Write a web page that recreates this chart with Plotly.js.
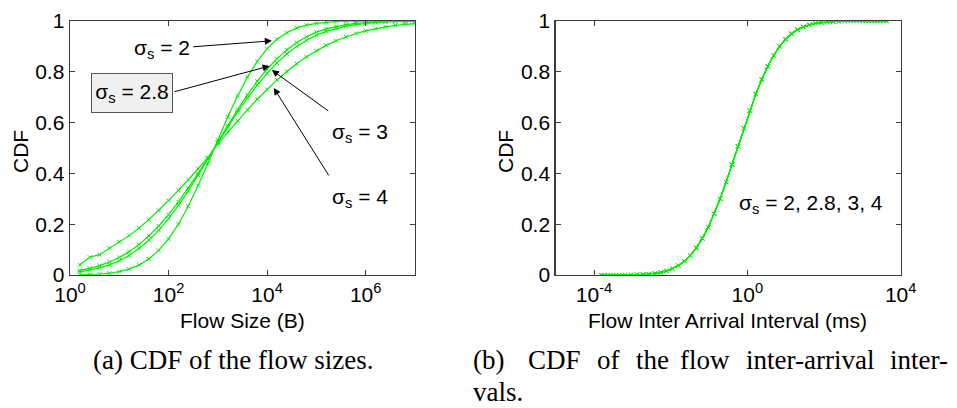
<!DOCTYPE html>
<html>
<head>
<meta charset="utf-8">
<script src="https://cdn.plot.ly/plotly-3.0.1.min.js"></script>
<style>
  html, body { margin: 0; padding: 0; background: #ffffff; }
  #fig { width: 957px; height: 408px; }
</style>
</head>
<body>
<div id="fig"></div>
<script>
// (a) Flow sizes in bytes, sampled on a log grid
const flowSizeBytes = [
  1.585, 2.512, 3.981, 6.310, 10, 15.85, 25.12, 39.81, 63.10, 100,
  158.5, 251.2, 398.1, 631.0, 1000, 1585, 2512, 3981, 6310, 10000,
  15849, 25119, 39811, 63096, 100000, 158489, 251189, 398107, 630957, 1000000,
  1584893, 2511886, 3981072, 6309573, 10000000
];
// CDF of flow sizes for each sigma_s
const cdfSigma2 = [
  0.001, 0.002, 0.004, 0.007, 0.013, 0.023, 0.039, 0.063, 0.097, 0.142,
  0.200, 0.271, 0.352, 0.440, 0.532, 0.622, 0.705, 0.779, 0.841, 0.891,
  0.928, 0.954, 0.973, 0.984, 0.991, 0.995, 0.998, 0.999, 0.999, 1,
  1, 1, 1, 1, 1
];
const cdfSigma28 = [
  0.012, 0.019, 0.028, 0.040, 0.056, 0.077, 0.104, 0.137, 0.176, 0.222,
  0.274, 0.331, 0.393, 0.457, 0.523, 0.588, 0.651, 0.709, 0.763, 0.811,
  0.852, 0.887, 0.915, 0.938, 0.956, 0.969, 0.979, 0.986, 0.991, 0.994,
  0.996, 0.998, 0.999, 0.999, 1.0
];
const cdfSigma3 = [
  0.018, 0.026, 0.037, 0.051, 0.069, 0.092, 0.120, 0.154, 0.193, 0.238,
  0.288, 0.342, 0.400, 0.460, 0.521, 0.582, 0.641, 0.696, 0.748, 0.794,
  0.835, 0.870, 0.900, 0.924, 0.944, 0.959, 0.971, 0.980, 0.986, 0.991,
  0.994, 0.996, 0.998, 0.998, 0.999
];
const cdfSigma4 = [
  0.040, 0.070, 0.080, 0.106, 0.130, 0.155, 0.185, 0.218, 0.255, 0.293,
  0.333, 0.375, 0.418, 0.462, 0.516, 0.562, 0.607, 0.650, 0.692, 0.731,
  0.768, 0.801, 0.832, 0.859, 0.883, 0.904, 0.922, 0.938, 0.951, 0.961,
  0.970, 0.977, 0.983, 0.987, 0.990
];

// (b) Flow inter-arrival intervals in ms (same distribution for every sigma_s)
const interArrivalMs = [
  0.000155, 0.000221, 0.000316, 0.000452, 0.000646, 0.000923, 0.00132, 0.00188, 0.00269, 0.00385,
  0.00550, 0.00785, 0.0112, 0.0160, 0.0229, 0.0327, 0.0468, 0.0668, 0.0955, 0.136,
  0.195, 0.279, 0.398, 0.569, 0.813, 1.16, 1.66, 2.37, 3.39, 4.84,
  6.92, 9.89, 14.1, 20.2, 28.8, 41.2, 58.9, 84.1, 120, 172,
  245, 351, 501, 716, 1023, 1462, 2089, 2985, 4266
];
const interArrivalCdf = [
  0, 0, 0.0001, 0.0002, 0.0003, 0.0006, 0.001, 0.002, 0.004, 0.006,
  0.010, 0.016, 0.025, 0.037, 0.054, 0.077, 0.107, 0.144, 0.188, 0.241,
  0.300, 0.366, 0.435, 0.507, 0.578, 0.647, 0.712, 0.770, 0.821, 0.864,
  0.900, 0.928, 0.950, 0.966, 0.977, 0.985, 0.991, 0.994, 0.997, 0.998,
  0.999, 0.9995, 1, 1, 1, 1, 1, 1, 1
];

const sigmaLabels = ['2', '2.8', '3', '4'];
const sizeSeries = [cdfSigma2, cdfSigma28, cdfSigma3, cdfSigma4];

const yTickVals = [0, 0.2, 0.4, 0.6, 0.8, 1];
const yTickText = ['0', '0.2', '0.4', '0.6', '0.8', '1'];
const sizeTickVals = [1, 100, 10000, 1000000];
const sizeTickText = ['10<sup>0</sup>', '10<sup>2</sup>', '10<sup>4</sup>', '10<sup>6</sup>'];
const iatTickVals = [0.0001, 1, 10000];
const iatTickText = ['10<sup>-4</sup>', '10<sup>0</sup>', '10<sup>4</sup>'];

const GREEN = '#00f000';
const SANS = 'Liberation Sans, Arial, sans-serif';
const SERIF = 'Liberation Serif, Times New Roman, serif';

function curve(x, y, name, xa, ya) {
  return {
    type: 'scatter', mode: 'lines+markers', name: name,
    x: x, y: y, xaxis: xa, yaxis: ya,
    line: { color: GREEN, width: 1.2 },
    marker: { symbol: 'x-thin', size: 4, line: { color: GREEN, width: 1 } },
    showlegend: false, hoverinfo: 'skip'
  };
}

const traces = [];
sizeSeries.forEach((ys, i) => traces.push(curve(flowSizeBytes, ys, 'σs = ' + sigmaLabels[i], 'x', 'y')));
sigmaLabels.forEach(s => traces.push(curve(interArrivalMs, interArrivalCdf, 'σs = ' + s, 'x2', 'y2')));

const W = 957, H = 408;
const px = v => v / W;
const py = v => 1 - v / H;

const axisCommon = {
  showline: true, linecolor: '#3c3c3c', linewidth: 1.4, mirror: 'ticks',
  ticks: 'inside', ticklen: 5, tickwidth: 1, tickcolor: '#3c3c3c',
  showgrid: false, zeroline: false, fixedrange: true,
  tickfont: { family: SANS, size: 21, color: '#000' }
};

const yDomain = [py(275), py(21)];

const layout = {
  width: W, height: H,
  margin: { l: 0, r: 0, t: 0, b: 0 },
  paper_bgcolor: '#ffffff', plot_bgcolor: '#ffffff',
  showlegend: false,
  xaxis: Object.assign({}, axisCommon, {
    type: 'log', range: [0, 7], domain: [px(70), px(415)],
    tickmode: 'array', tickvals: sizeTickVals, ticktext: sizeTickText, anchor: 'y'
  }),
  yaxis: Object.assign({}, axisCommon, {
    range: [0, 1], domain: yDomain,
    tickmode: 'array', tickvals: yTickVals, ticktext: yTickText, anchor: 'x'
  }),
  xaxis2: Object.assign({}, axisCommon, {
    type: 'log', range: [-5, 4], domain: [px(555.7), px(900.7)],
    tickmode: 'array', tickvals: iatTickVals, ticktext: iatTickText, anchor: 'y2'
  }),
  yaxis2: Object.assign({}, axisCommon, {
    range: [0, 1], domain: yDomain,
    tickmode: 'array', tickvals: yTickVals, ticktext: yTickText, anchor: 'x2'
  }),
  annotations: []
};

const A = layout.annotations;
const labelFont = { family: SANS, size: 21, color: '#000' };

// axis titles
A.push({ xref: 'paper', yref: 'paper', x: px(20), y: py(152), text: 'CDF', textangle: -90,
  showarrow: false, font: labelFont, xanchor: 'center', yanchor: 'middle' });
A.push({ xref: 'paper', yref: 'paper', x: px(505), y: py(152), text: 'CDF', textangle: -90,
  showarrow: false, font: labelFont, xanchor: 'center', yanchor: 'middle' });
A.push({ xref: 'paper', yref: 'paper', x: px(242), y: py(320), text: 'Flow Size (B)',
  showarrow: false, font: labelFont, xanchor: 'center', yanchor: 'middle' });
A.push({ xref: 'paper', yref: 'paper', x: px(727), y: py(320), text: 'Flow Inter Arrival Interval (ms)',
  showarrow: false, font: labelFont, xanchor: 'center', yanchor: 'middle' });

// arrows pointing at the flow-size curves (positions in axis units, log10 for x)
function arrow(hx, hy, tx, ty) {
  A.push({ xref: 'x', yref: 'y', axref: 'x', ayref: 'y', x: hx, y: hy, ax: tx, ay: ty,
    text: '', showarrow: true, arrowhead: 2, arrowsize: 1.4, arrowwidth: 1, arrowcolor: '#000',
    standoff: 0, startstandoff: 0 });
}
arrow(4.095, 0.922, 2.47, 0.898);
arrow(4.05, 0.823, 2.09, 0.720);
arrow(4.095, 0.807, 5.27, 0.642);
arrow(4.135, 0.736, 5.27, 0.386);

const sig = s => 'σ<sub>s</sub> = ' + s;
A.push({ xref: 'x', yref: 'y', x: 2.47, y: 0.89, text: sig('2'), showarrow: false,
  font: labelFont, xanchor: 'right', yanchor: 'middle' });
A.push({ xref: 'x', yref: 'y', x: 1.25, y: 0.715, text: sig('2.8'), showarrow: false,
  font: labelFont, xanchor: 'center', yanchor: 'middle',
  bgcolor: '#f0f0f0', bordercolor: '#555', borderwidth: 1, borderpad: 0, width: 80, height: 38 });
A.push({ xref: 'x', yref: 'y', x: 5.27, y: 0.559, text: sig('3'), showarrow: false,
  font: labelFont, xanchor: 'left', yanchor: 'middle' });
A.push({ xref: 'x', yref: 'y', x: 5.27, y: 0.303, text: sig('4'), showarrow: false,
  font: labelFont, xanchor: 'left', yanchor: 'middle' });
A.push({ xref: 'x2', yref: 'y2', x: -0.26, y: 0.28, text: sig('2, 2.8, 3, 4'), showarrow: false,
  font: labelFont, xanchor: 'left', yanchor: 'middle' });

// sub-figure captions; the (b) caption is justified, so its words are set one by one
const capFont = { family: SERIF, size: 27, color: '#000' };
A.push({ xref: 'paper', yref: 'paper', x: px(233), y: py(360), text: '(a) CDF of the flow sizes.',
  showarrow: false, font: capFont, xanchor: 'center', yanchor: 'middle' });
const capWords = ['(b)', 'CDF', 'of', 'the', 'flow', 'inter-arrival', 'inter-'];
const capPos = [471, 554, 608, 652, 705, 810, 950];
const capAnchor = ['left', 'center', 'center', 'center', 'center', 'center', 'right'];
capWords.forEach((w, i) => A.push({ xref: 'paper', yref: 'paper', x: px(capPos[i]), y: py(360),
  text: w, showarrow: false, font: capFont, xanchor: capAnchor[i], yanchor: 'middle' }));
A.push({ xref: 'paper', yref: 'paper', x: px(471), y: py(392), text: 'vals.',
  showarrow: false, font: capFont, xanchor: 'left', yanchor: 'middle' });

Plotly.newPlot('fig', traces, layout, { staticPlot: true, displayModeBar: false });
</script>
</body>
</html>
